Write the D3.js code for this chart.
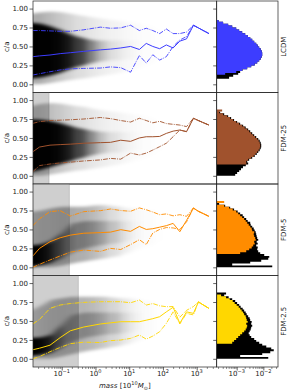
<!DOCTYPE html>
<html lang="en">
<head>
<meta charset="UTF-8">
<title>c/a versus halo mass</title>
<script src="https://cdn.jsdelivr.net/npm/d3@7"></script>
<style>
  html, body { margin: 0; padding: 0; background: #fff; }
  svg { display: block; font-family: "DejaVu Sans", sans-serif; }
</style>
</head>
<body>
<svg id="chart" width="287" height="392"></svg>
<script>
// Models, top to bottom
const models = ['LCDM', 'FDM-25', 'FDM-5', 'FDM-2.5'];
const modelColors = ['#3d3dff', '#a0522d', '#ff8c00', '#ffd700'];
const massCut = [null, 0.042, 0.168, 0.31]; // shaded (unresolved) mass range, 1e10 Msun

// Tick labels
const caTicks = [0, 0.25, 0.5, 0.75, 1.0];
const massTicks = [0.1, 1, 10, 100, 1000];
const massTickExp = ['\u22121', '0', '1', '2', '3'];
const histTicks = [1e-3, 1e-2];
const histTickExp = ['\u22123', '\u22122'];

// Binned c/a lines: median (solid) and percentiles (dash-dot)
const massBins = [0.014, 0.022, 0.045, 0.09, 0.18, 0.45, 1.4, 2.8, 5.6, 11, 20, 32, 50, 80, 126, 200, 316, 500, 800, 1120, 2300];

const medLCDM = [0.365, 0.375, 0.387, 0.405, 0.417, 0.435, 0.455, 0.465, 0.48, 0.50, 0.46, 0.54, 0.50, 0.47, 0.52, 0.48, 0.57, 0.60, 0.78, 0.745, 0.67];
const upLCDM  = [0.71, 0.71, 0.705, 0.70, 0.70, 0.72, 0.755, 0.74, 0.745, 0.78, 0.71, 0.74, 0.71, 0.67, 0.73, 0.67, 0.67, 0.69, 0.78, 0.745, 0.67];
const loLCDM  = [0.123, 0.14, 0.166, 0.19, 0.205, 0.21, 0.215, 0.23, 0.22, 0.16, 0.38, 0.28, 0.39, 0.32, 0.365, 0.50, 0.585, 0.63, 0.78, 0.745, 0.67];

const medFDM25 = [0.318, 0.38, 0.405, 0.412, 0.418, 0.43, 0.438, 0.442, 0.47, 0.455, 0.50, 0.516, 0.516, 0.52, 0.56, 0.59, 0.605, 0.583, 0.76, 0.73, 0.67];
const upFDM25  = [0.693, 0.715, 0.73, 0.735, 0.74, 0.75, 0.77, 0.755, 0.73, 0.71, 0.76, 0.73, 0.70, 0.72, 0.69, 0.68, 0.67, 0.65, 0.76, 0.73, 0.67];
const loFDM25  = [0.055, 0.135, 0.156, 0.17, 0.18, 0.196, 0.21, 0.23, 0.22, 0.30, 0.275, 0.30, 0.34, 0.385, 0.43, 0.516, 0.605, 0.583, 0.76, 0.73, 0.67];

const medFDM5 = [0.15, 0.25, 0.338, 0.39, 0.425, 0.45, 0.458, 0.465, 0.497, 0.475, 0.54, 0.50, 0.51, 0.53, 0.55, 0.58, 0.47, 0.62, 0.78, 0.74, 0.673];
const upFDM5  = [0.55, 0.64, 0.735, 0.748, 0.677, 0.735, 0.748, 0.77, 0.75, 0.74, 0.784, 0.76, 0.73, 0.695, 0.705, 0.68, 0.695, 0.673, 0.784, 0.74, 0.673];
const loFDM5  = [0.0, 0.04, 0.097, 0.15, 0.20, 0.228, 0.21, 0.25, 0.235, 0.30, 0.365, 0.30, 0.453, 0.50, 0.525, 0.52, 0.50, 0.60, 0.784, 0.74, 0.673];

const medFDM2_5 = [0.12, 0.14, 0.18, 0.28, 0.37, 0.42, 0.46, 0.475, 0.49, 0.49, 0.49, 0.51, 0.53, 0.556, 0.62, 0.68, 0.47, 0.62, 0.60, 0.75, 0.666];
const upFDM2_5  = [0.46, 0.52, 0.666, 0.71, 0.73, 0.745, 0.754, 0.754, 0.754, 0.74, 0.776, 0.71, 0.73, 0.70, 0.688, 0.69, 0.55, 0.64, 0.69, 0.755, 0.666];
const loFDM2_5  = [0.0, 0.03, 0.094, 0.15, 0.20, 0.22, 0.215, 0.24, 0.248, 0.27, 0.314, 0.26, 0.30, 0.358, 0.468, 0.62, 0.46, 0.60, 0.58, 0.75, 0.666];

// Halo cloud: dense core band and sparse outer band, with darkness per mass
const cloudMass = [0.014, 0.025, 0.05, 0.1, 0.2, 0.5, 1, 2, 5, 10, 20, 50, 100, 300, 800];

const coreLoLCDM    = [0.07, 0.09, 0.12, 0.16, 0.21, 0.26, 0.29, 0.31, 0.32, 0.33, 0.35, 0.38, 0.40, 0.45, 0.50];
const coreHiLCDM    = [0.82, 0.80, 0.76, 0.71, 0.65, 0.60, 0.58, 0.58, 0.58, 0.58, 0.58, 0.60, 0.60, 0.60, 0.60];
const coreShadeLCDM = [1, 1, 1, 0.95, 0.85, 0.6, 0.3, 0.12, 0.04, 0.02, 0, 0, 0, 0, 0];
const haloLoLCDM    = [0.0, 0.0, 0.02, 0.04, 0.06, 0.08, 0.10, 0.12, 0.15, 0.18, 0.22, 0.28, 0.33, 0.40, 0.45];
const haloHiLCDM    = [0.92, 0.95, 0.96, 0.95, 0.93, 0.90, 0.88, 0.86, 0.84, 0.82, 0.80, 0.76, 0.72, 0.70, 0.68];
const haloShadeLCDM = [0.35, 0.3, 0.25, 0.2, 0.15, 0.11, 0.08, 0.06, 0.04, 0.025, 0.015, 0.008, 0, 0, 0];

const coreLoFDM25    = [0.03, 0.08, 0.12, 0.16, 0.20, 0.25, 0.28, 0.30, 0.31, 0.33, 0.35, 0.38, 0.40, 0.45, 0.50];
const coreHiFDM25    = [0.75, 0.74, 0.72, 0.69, 0.65, 0.61, 0.59, 0.58, 0.58, 0.58, 0.58, 0.60, 0.60, 0.60, 0.60];
const coreShadeFDM25 = [1, 1, 1, 0.95, 0.82, 0.55, 0.28, 0.12, 0.04, 0.02, 0, 0, 0, 0, 0];
const haloLoFDM25    = [0.0, 0.0, 0.02, 0.04, 0.06, 0.08, 0.10, 0.12, 0.15, 0.18, 0.22, 0.28, 0.33, 0.40, 0.45];
const haloHiFDM25    = [0.90, 0.95, 0.96, 0.95, 0.93, 0.91, 0.88, 0.86, 0.84, 0.82, 0.80, 0.76, 0.72, 0.70, 0.68];
const haloShadeFDM25 = [0.3, 0.28, 0.24, 0.2, 0.15, 0.11, 0.08, 0.06, 0.04, 0.025, 0.015, 0.008, 0, 0, 0];

const coreLoFDM5    = [0.0, 0.03, 0.06, 0.12, 0.20, 0.25, 0.28, 0.30, 0.32, 0.35, 0.38, 0.40, 0.42, 0.45, 0.50];
const coreHiFDM5    = [0.28, 0.30, 0.35, 0.45, 0.58, 0.61, 0.61, 0.61, 0.61, 0.61, 0.61, 0.60, 0.60, 0.60, 0.60];
const coreShadeFDM5 = [1, 1, 0.8, 0.45, 0.32, 0.3, 0.26, 0.17, 0.08, 0.03, 0, 0, 0, 0, 0];
const haloLoFDM5    = [0.0, 0.0, 0.0, 0.02, 0.05, 0.08, 0.10, 0.12, 0.15, 0.20, 0.25, 0.30, 0.35, 0.40, 0.45];
const haloHiFDM5    = [0.72, 0.75, 0.78, 0.80, 0.80, 0.80, 0.82, 0.82, 0.80, 0.78, 0.78, 0.75, 0.72, 0.70, 0.70];
const haloShadeFDM5 = [0.3, 0.3, 0.32, 0.33, 0.33, 0.3, 0.25, 0.18, 0.09, 0.04, 0.02, 0.008, 0, 0, 0];

const coreLoFDM2_5    = [0.03, 0.05, 0.08, 0.15, 0.22, 0.28, 0.30, 0.32, 0.33, 0.35, 0.38, 0.40, 0.42, 0.45, 0.50];
const coreHiFDM2_5    = [0.27, 0.28, 0.32, 0.45, 0.58, 0.61, 0.61, 0.61, 0.61, 0.61, 0.61, 0.60, 0.60, 0.60, 0.60];
const coreShadeFDM2_5 = [1, 1, 0.75, 0.35, 0.26, 0.26, 0.24, 0.18, 0.1, 0.04, 0, 0, 0, 0, 0];
const haloLoFDM2_5    = [0.0, 0.0, 0.0, 0.03, 0.06, 0.10, 0.12, 0.14, 0.17, 0.20, 0.25, 0.30, 0.35, 0.40, 0.45];
const haloHiFDM2_5    = [0.60, 0.70, 0.78, 0.80, 0.82, 0.82, 0.82, 0.82, 0.80, 0.80, 0.78, 0.75, 0.72, 0.70, 0.70];
const haloShadeFDM2_5 = [0.25, 0.27, 0.3, 0.3, 0.3, 0.28, 0.25, 0.2, 0.12, 0.06, 0.03, 0.01, 0, 0, 0];

// c/a histograms (units of 1e-3), bins of 0.025 starting at 0; coloured = resolved, all = every halo
const caBinWidth = 0.025;
const histLCDM    = [0, 0, 0, 0, 0, 0.37, 0.96, 1.61, 2.48, 3.51, 4.75, 5.9, 7.0, 7.98, 8.71, 9.09, 9.09, 8.71, 7.98, 7.0, 6.16, 5.41, 4.55, 3.83, 3.22, 2.59, 2.09, 1.61, 1.24, 0.96, 0.68, 0.48, 0.31, 0.21, 0];
const histAllLCDM = [0, 0, 0, 0.52, 0.74, 1.14, 1.35, 1.65, 2.48, 3.51, 4.75, 5.9, 7.0, 7.98, 8.71, 9.09, 9.09, 8.71, 7.98, 7.0, 6.16, 5.41, 4.55, 3.83, 3.22, 2.59, 2.09, 1.61, 1.24, 0.96, 0.68, 0.48, 0.31, 0.21, 0];

const histFDM25    = [0, 0, 0, 0, 0, 0, 2.3, 2.28, 2.70, 3.51, 4.36, 5.18, 5.9, 6.71, 7.32, 7.64, 7.64, 7.32, 6.71, 5.9, 4.96, 4.17, 3.51, 2.95, 2.48, 2.0, 1.61, 1.24, 0.96, 0.74, 0.57, 0.44, 0.31, 0.22, 0.285];
const histAllFDM25 = [0.88, 1.04, 1.24, 1.45, 1.72, 2.2, 2.70, 2.48, 2.95, 3.83, 4.75, 5.65, 6.43, 7.32, 7.98, 8.34, 8.34, 7.98, 7.32, 6.43, 5.41, 4.55, 3.83, 3.22, 2.70, 2.18, 1.75, 1.35, 1.04, 0.80, 0.62, 0.48, 0.34, 0.24, 0];

const histFDM5    = [0, 0, 0, 0, 0, 0, 0, 1.35, 2.28, 2.95, 3.66, 4.17, 4.75, 4.55, 5.18, 4.96, 4.55, 4.36, 4.55, 3.83, 3.66, 3.22, 2.83, 2.48, 2.18, 1.91, 1.61, 1.35, 1.14, 0.96, 0.71, 0.52, 0.34, 0, 0.34];
const histAllFDM5 = [21.6, 0.68, 3.22, 8.34, 15.3, 16.7, 10.8, 7.64, 6.43, 5.9, 6.16, 5.41, 6.16, 5.65, 6.43, 5.9, 5.65, 5.41, 5.18, 4.75, 4.36, 3.83, 3.36, 3.22, 2.59, 2.28, 1.91, 1.68, 1.35, 1.09, 0.80, 0.57, 0.37, 0.22, 0];

const histFDM2_5    = [0, 0, 0, 0, 0, 0, 0, 0, 0.68, 0.80, 0.96, 1.14, 1.35, 1.61, 1.91, 2.18, 2.38, 2.48, 2.28, 2.59, 2.38, 2.28, 2.18, 1.91, 1.75, 1.54, 1.35, 1.19, 1.0, 0.84, 0.71, 0.55, 0.40, 0.26, 0];
const histAllFDM2_5 = [15.3, 1.35, 9.09, 18.2, 24.6, 19.8, 12.9, 9.09, 7.0, 5.41, 4.55, 3.51, 3.08, 2.83, 3.08, 3.36, 3.51, 3.83, 3.51, 3.66, 3.22, 3.08, 2.70, 2.38, 2.18, 1.91, 1.68, 1.41, 1.24, 1.04, 0.88, 0.68, 0.50, 0.34, 0.40];

// Per-panel table built from the arrays above
const panels = [
  { med: medLCDM, up: upLCDM, lo: loLCDM, coreLo: coreLoLCDM, coreHi: coreHiLCDM, coreShade: coreShadeLCDM,
    haloLo: haloLoLCDM, haloHi: haloHiLCDM, haloShade: haloShadeLCDM, hist: histLCDM, histAll: histAllLCDM },
  { med: medFDM25, up: upFDM25, lo: loFDM25, coreLo: coreLoFDM25, coreHi: coreHiFDM25, coreShade: coreShadeFDM25,
    haloLo: haloLoFDM25, haloHi: haloHiFDM25, haloShade: haloShadeFDM25, hist: histFDM25, histAll: histAllFDM25 },
  { med: medFDM5, up: upFDM5, lo: loFDM5, coreLo: coreLoFDM5, coreHi: coreHiFDM5, coreShade: coreShadeFDM5,
    haloLo: haloLoFDM5, haloHi: haloHiFDM5, haloShade: haloShadeFDM5, hist: histFDM5, histAll: histAllFDM5 },
  { med: medFDM2_5, up: upFDM2_5, lo: loFDM2_5, coreLo: coreLoFDM2_5, coreHi: coreHiFDM2_5, coreShade: coreShadeFDM2_5,
    haloLo: haloLoFDM2_5, haloHi: haloHiFDM2_5, haloShade: haloShadeFDM2_5, hist: histFDM2_5, histAll: histAllFDM2_5 }
];

// Layout
const mainLeft = 33, mainRight = 216.7, histRight = 278;
const panelTop = [1, 92.5, 184, 275.5];
const panelH = 91.5;
const fontSize = 7;
const textColor = '#1a1a1a';

const svg = d3.select('#chart');
const defs = svg.append('defs');
defs.append('filter').attr('id', 'soft')
  .attr('filterUnits', 'userSpaceOnUse')
  .attr('x', 0).attr('y', 0).attr('width', 287).attr('height', 392)
  .append('feGaussianBlur').attr('stdDeviation', '3.5 1.6');

const x = d3.scaleLog().domain([0.0141, 3915]).range([mainLeft, mainRight]);
const hx = d3.scaleLog().domain([1.78e-4, 0.0355]).range([mainRight, histRight]);

function styleAxis(g) {
  g.select('.domain').remove();
  g.selectAll('.tick line').attr('stroke', '#222').attr('stroke-width', 0.7);
  g.selectAll('.tick text').attr('font-size', fontSize).attr('fill', textColor)
    .attr('font-family', '"DejaVu Sans", sans-serif');
}

panels.forEach((p, k) => {
  const top = panelTop[k];
  const color = modelColors[k];
  const y = d3.scaleLinear().domain([-0.108, 1.10]).range([top + panelH, top]);

  defs.append('clipPath').attr('id', 'clipMain' + k)
    .append('rect').attr('x', mainLeft).attr('y', top)
    .attr('width', mainRight - mainLeft).attr('height', panelH);
  defs.append('clipPath').attr('id', 'clipHist' + k)
    .append('rect').attr('x', mainRight).attr('y', top)
    .attr('width', histRight - mainRight).attr('height', panelH);

  const g = svg.append('g').attr('clip-path', `url(#clipMain${k})`);

  // shaded unresolved region
  if (massCut[k]) {
    g.append('rect')
      .attr('x', mainLeft).attr('y', top)
      .attr('width', x(massCut[k]) - mainLeft).attr('height', panelH)
      .attr('fill', '#cfcfcf');
    g.append('line')
      .attr('x1', x(massCut[k])).attr('x2', x(massCut[k]))
      .attr('y1', top).attr('y2', top + panelH)
      .attr('stroke', '#b4b4b4').attr('stroke-width', 0.7);
  }

  // halo cloud: each band drawn as segments between mass nodes, then blurred together
  const bands = [
    { lo: p.haloLo, hi: p.haloHi, shade: p.haloShade },
    { lo: p.coreLo, hi: p.coreHi, shade: p.coreShade }
  ];
  const area = d3.area().x(d => d.px).y0(d => y(d.lo)).y1(d => y(d.hi));
  bands.forEach(b => {
    const bg = g.append('g').attr('filter', 'url(#soft)');
    for (let i = 0; i < cloudMass.length - 1; i++) {
      const opacity = (b.shade[i] + b.shade[i + 1]) / 2;
      if (opacity <= 0) continue;
      const a = { px: x(cloudMass[i]) - (i === 0 ? 10 : 0.3), lo: b.lo[i], hi: b.hi[i] };
      const c = { px: x(cloudMass[i + 1]) + 0.3, lo: b.lo[i + 1], hi: b.hi[i + 1] };
      bg.append('path').datum([a, c])
        .attr('d', area)
        .attr('fill', '#000')
        .attr('fill-opacity', opacity);
    }
  });

  // binned lines
  const line = d3.line()
    .x((d, i) => x(massBins[i]))
    .y(d => y(d));
  [p.lo, p.up].forEach(series => {
    g.append('path').datum(series)
      .attr('d', line)
      .attr('fill', 'none').attr('stroke', color)
      .attr('stroke-width', 0.9)
      .attr('stroke-dasharray', '4.8,1.2,0.9,1.2');
  });
  g.append('path').datum(p.med)
    .attr('d', line)
    .attr('fill', 'none').attr('stroke', color)
    .attr('stroke-width', 1);

  // histograms
  const hg = svg.append('g').attr('clip-path', `url(#clipHist${k})`);
  const histArea = d3.area()
    .y(d => y(d.ca)).x0(mainRight)
    .x1(d => d.v > 0 ? hx(d.v * 1e-3) : mainRight);
  const steps = vals => vals.flatMap((v, i) => [
    { ca: i * caBinWidth, v: v },
    { ca: (i + 1) * caBinWidth, v: v }
  ]);
  hg.append('path').datum(steps(p.histAll)).attr('d', histArea).attr('fill', '#000');
  hg.append('path').datum(steps(p.hist)).attr('d', histArea).attr('fill', color);

  // frames
  svg.append('rect')
    .attr('x', mainLeft).attr('y', top)
    .attr('width', mainRight - mainLeft).attr('height', panelH)
    .attr('fill', 'none').attr('stroke', '#222').attr('stroke-width', 0.7);
  svg.append('rect')
    .attr('x', mainRight).attr('y', top)
    .attr('width', histRight - mainRight).attr('height', panelH)
    .attr('fill', 'none').attr('stroke', '#222').attr('stroke-width', 0.7);

  // y axis of main panel
  svg.append('g').attr('transform', `translate(${mainLeft},0)`)
    .call(d3.axisLeft(y).tickValues(caTicks).tickFormat(d3.format('.2f')).tickSize(3.5).tickPadding(1.5))
    .call(styleAxis);
  // y ticks of histogram panel
  svg.append('g').attr('transform', `translate(${mainRight},0)`)
    .call(d3.axisLeft(y).tickValues(caTicks).tickFormat('').tickSize(3.5))
    .call(styleAxis);

  svg.append('text')
    .attr('transform', `translate(8.5,${top + panelH / 2}) rotate(-90)`)
    .attr('text-anchor', 'middle')
    .attr('font-size', fontSize).attr('fill', textColor)
    .text('c/a');

  svg.append('text')
    .attr('transform', `translate(286.3,${top + panelH / 2}) rotate(-90)`)
    .attr('text-anchor', 'middle')
    .attr('font-size', fontSize).attr('fill', textColor)
    .text(models[k]);
});

// bottom axes
const bottom = panelTop[3] + panelH;
const minorMass = x.ticks().filter(v => !massTicks.some(t => Math.abs(t - v) / t < 1e-6));
svg.append('g').attr('transform', `translate(0,${bottom})`)
  .call(d3.axisBottom(x).tickValues(massTicks).tickFormat('').tickSize(3.5))
  .call(styleAxis);
svg.append('g').attr('transform', `translate(0,${bottom})`)
  .call(d3.axisBottom(x).tickValues(minorMass).tickFormat('').tickSize(2))
  .call(styleAxis)
  .selectAll('.tick line').attr('stroke-width', 0.5);

const minorHist = hx.ticks().filter(v => !histTicks.some(t => Math.abs(t - v) / t < 1e-6));
svg.append('g').attr('transform', `translate(0,${bottom})`)
  .call(d3.axisBottom(hx).tickValues(histTicks).tickFormat('').tickSize(3.5))
  .call(styleAxis);
svg.append('g').attr('transform', `translate(0,${bottom})`)
  .call(d3.axisBottom(hx).tickValues(minorHist).tickFormat('').tickSize(2))
  .call(styleAxis)
  .selectAll('.tick line').attr('stroke-width', 0.5);

function powerLabel(px, exp) {
  const t = svg.append('text')
    .attr('x', px).attr('y', bottom + 9)
    .attr('text-anchor', 'middle')
    .attr('font-size', fontSize).attr('fill', textColor);
  t.append('tspan').text('10');
  t.append('tspan').attr('font-size', 5).attr('dy', -3).text(exp);
}
massTicks.forEach((m, i) => powerLabel(x(m), massTickExp[i]));
histTicks.forEach((v, i) => powerLabel(hx(v), histTickExp[i]));

// x label
const xl = svg.append('text')
  .attr('x', (mainLeft + mainRight) / 2).attr('y', 388)
  .attr('text-anchor', 'middle')
  .attr('font-size', fontSize).attr('fill', textColor);
xl.append('tspan').attr('font-style', 'italic').text('mass');
xl.append('tspan').text(' [10');
xl.append('tspan').attr('font-size', 5).attr('dy', -3).text('10');
xl.append('tspan').attr('font-style', 'italic').attr('dy', 3).text('M');
xl.append('tspan').attr('font-size', 5).attr('dy', 1.5).text('\u2299');
xl.append('tspan').attr('dy', -1.5).text(']');
</script>
</body>
</html>
